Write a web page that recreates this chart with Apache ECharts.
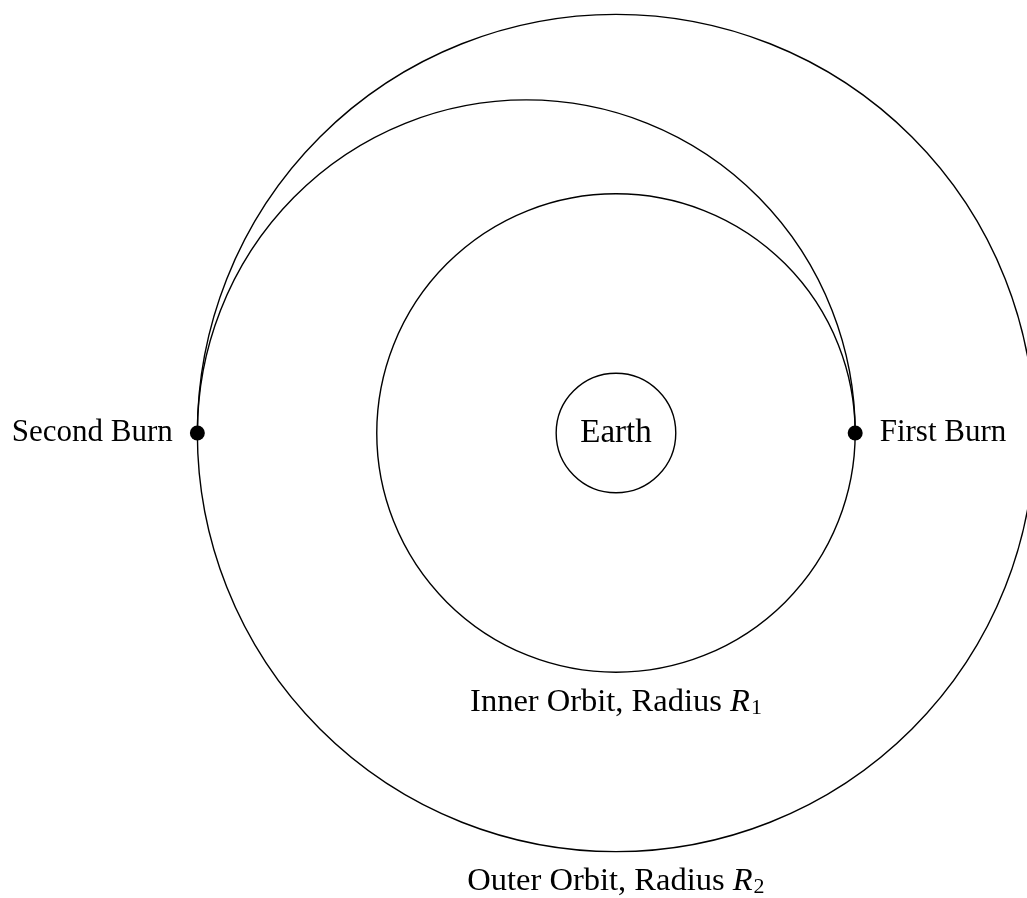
<!DOCTYPE html>
<html>
<head>
    <meta charset="utf-8" />
    <title>Hohmann Transfer</title>
    <style>
        html, body { margin: 0; padding: 0; background: #fff; }
        #chart { width: 1027px; height: 898px; }
    </style>
</head>
<body>
    <div id="chart"></div>

    <script src="https://cdn.jsdelivr.net/npm/echarts@6/dist/echarts.min.js"></script>
    <script type="text/javascript">

        // orbits, in units of Earth radius
        var orbitNames = ['Earth', 'Inner Orbit', 'Outer Orbit'];
        var orbitRadii = [1, 4, 7];

        // transfer half-ellipse semi axes (x, y)
        var transferAxes = [5.5, 5.57];

        // burn points on the x axis
        var burnNames = ['First Burn', 'Second Burn'];
        var burnX = [4, -7];

        // orbit captions
        var captionText = ['Inner Orbit, Radius ', 'Outer Orbit, Radius '];
        var captionSub = ['1', '2'];

        var font = 'Liberation Serif';
        var lineStyle = { fill: 'none', stroke: '#000', lineWidth: 1.4 };

        var chart = echarts.init(document.getElementById('chart'));

        var option = {
            animation: false,
            backgroundColor: '#fff',
            // whole canvas is the plot area, Earth centre sits at (616, 433)
            grid: { left: 0, right: 0, top: 0, bottom: 0 },
            xAxis: { type: 'value', min: -10.3, max: 6.873, show: false },
            yAxis: { type: 'value', min: -7.776, max: 7.241, show: false },
            series: [
                {
                    // Earth + the two circular orbits
                    type: 'custom',
                    clip: false,
                    data: orbitRadii.map(function (r) { return [0, 0, r]; }),
                    renderItem: function (params, api) {
                        var c = api.coord([api.value(0), api.value(1)]);
                        var r = api.size([api.value(2), 0])[0];
                        return {
                            type: 'circle',
                            shape: { cx: c[0], cy: c[1], r: r },
                            style: lineStyle
                        };
                    }
                },
                {
                    // upper half of the transfer ellipse
                    type: 'custom',
                    clip: false,
                    data: [[(burnX[0] + burnX[1]) / 2, 0, transferAxes[0], transferAxes[1]]],
                    renderItem: function (params, api) {
                        var c = api.coord([api.value(0), api.value(1)]);
                        var rx = api.size([api.value(2), 0])[0];
                        var ry = api.size([0, api.value(3)])[1];
                        var d = 'M ' + (c[0] + rx) + ' ' + c[1] +
                            ' A ' + rx + ' ' + ry + ' 0 0 0 ' + (c[0] - rx) + ' ' + c[1];
                        return {
                            type: 'path',
                            shape: { pathData: d },
                            style: lineStyle
                        };
                    }
                },
                {
                    // burn points
                    type: 'scatter',
                    clip: false,
                    symbol: 'circle',
                    symbolSize: 15,
                    itemStyle: { color: '#000', opacity: 1 },
                    label: {
                        show: true,
                        formatter: '{b}',
                        distance: 17,
                        color: '#000',
                        fontFamily: font,
                        fontSize: 31
                    },
                    data: burnX.map(function (x, i) {
                        return {
                            name: burnNames[i],
                            value: [x, 0],
                            label: { position: x > 0 ? 'right' : 'left' }
                        };
                    })
                },
                {
                    // Earth label
                    type: 'scatter',
                    clip: false,
                    symbolSize: 0,
                    itemStyle: { opacity: 1 },
                    label: {
                        show: true,
                        position: 'inside',
                        formatter: '{b}',
                        color: '#000',
                        fontFamily: font,
                        fontSize: 33
                    },
                    data: [{ name: orbitNames[0], value: [0, 0] }]
                },
                {
                    // orbit captions under each orbit
                    type: 'scatter',
                    clip: false,
                    symbolSize: 0,
                    itemStyle: { opacity: 1 },
                    label: {
                        show: true,
                        position: 'inside',
                        formatter: function (p) {
                            return '{n|' + captionText[p.dataIndex] + '}{i|R}{s|' + captionSub[p.dataIndex] + '}';
                        },
                        rich: {
                            n: { fontFamily: font, fontSize: 32.5, color: '#000' },
                            i: { fontFamily: font, fontSize: 32.5, fontStyle: 'italic', color: '#000' },
                            s: { fontFamily: font, fontSize: 22, color: '#000', verticalAlign: 'bottom', padding: [12, 0, 0, 1] }
                        }
                    },
                    data: [
                        { value: [0, -(orbitRadii[1] + 0.5)] },
                        { value: [0, -(orbitRadii[2] + 0.5)] }
                    ]
                }
            ]
        };

        chart.setOption(option);
    </script>
</body>
</html>
